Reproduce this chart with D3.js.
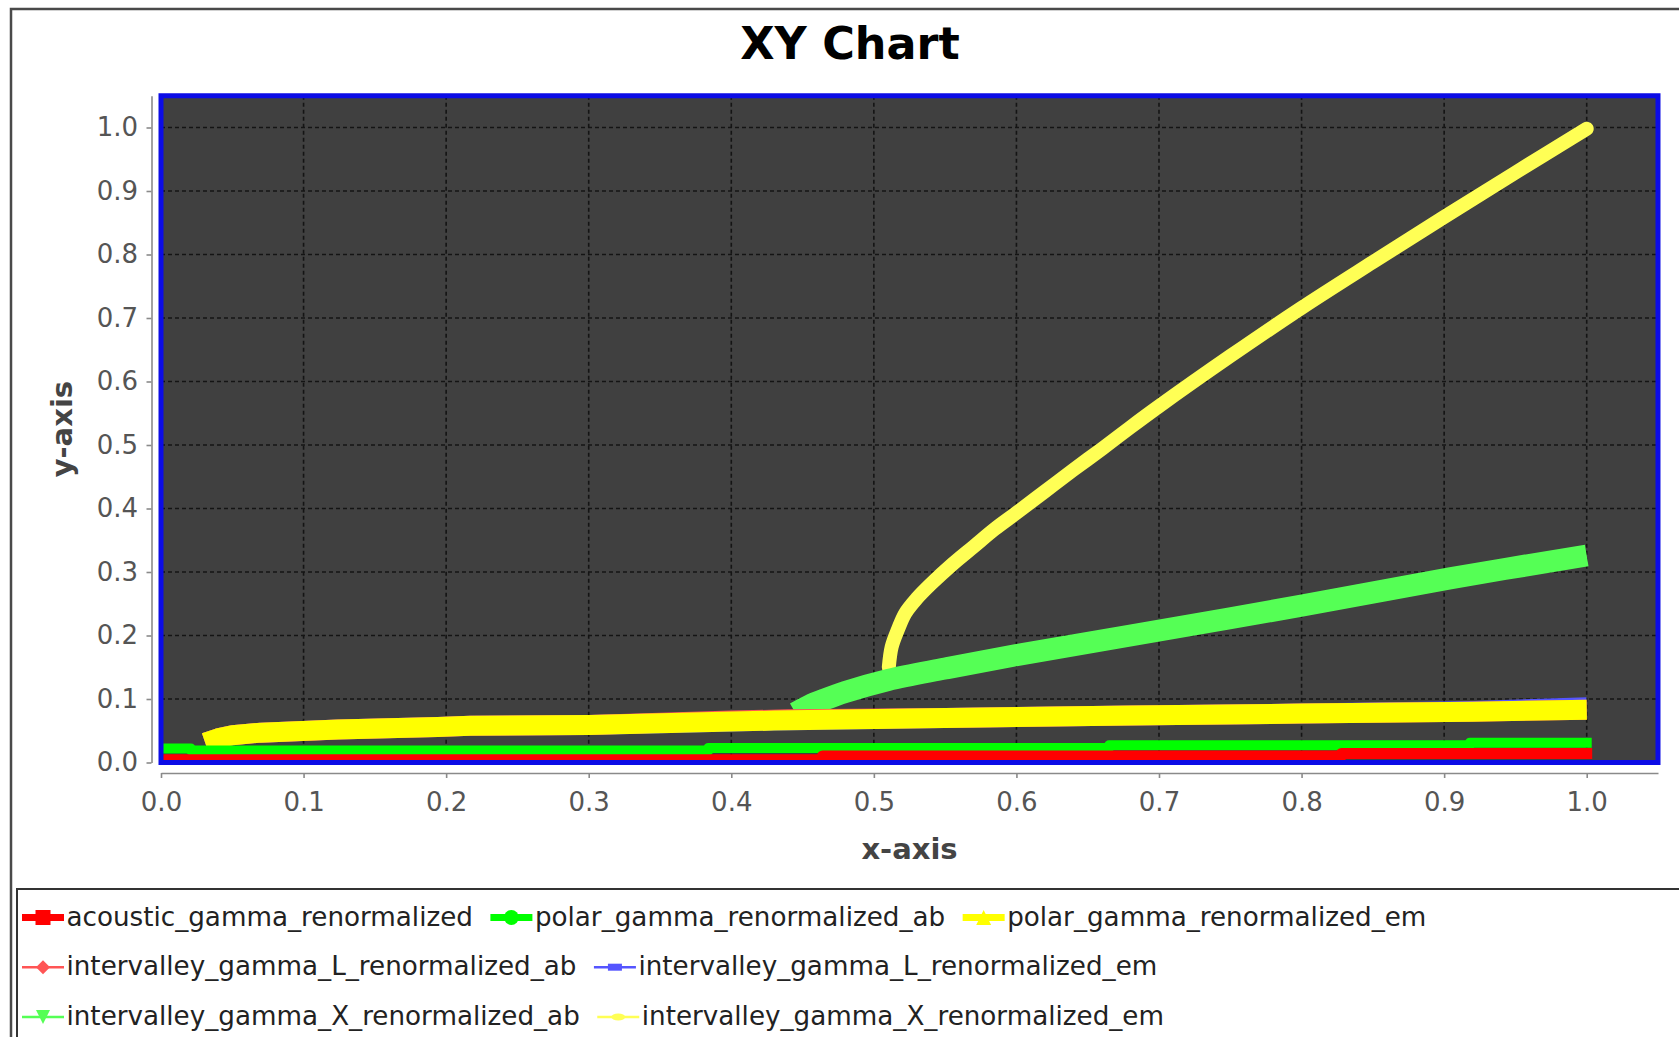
<!DOCTYPE html>
<html>
<head>
<meta charset="utf-8">
<title>XY Chart</title>
<script src="https://cdn.jsdelivr.net/npm/d3@7"></script>
<style>
  html, body { margin: 0; padding: 0; background: #ffffff; overflow: hidden; }
  svg { display: block; }
</style>
</head>
<body>
<svg id="chart" width="1679" height="1037"></svg>
<script>
// ---- data -------------------------------------------------------------
const chartTitle = "XY Chart";
const xLabel = "x-axis";
const yLabel = "y-axis";
const xTicks = [0.0, 0.1, 0.2, 0.3, 0.4, 0.5, 0.6, 0.7, 0.8, 0.9, 1.0];
const yTicks = [0.0, 0.1, 0.2, 0.3, 0.4, 0.5, 0.6, 0.7, 0.8, 0.9, 1.0];

const seriesNames = [
  "acoustic_gamma_renormalized",
  "polar_gamma_renormalized_ab",
  "polar_gamma_renormalized_em",
  "intervalley_gamma_L_renormalized_ab",
  "intervalley_gamma_L_renormalized_em",
  "intervalley_gamma_X_renormalized_ab",
  "intervalley_gamma_X_renormalized_em"
];

// [x, y] pairs per series
const acoustic = [[0.000, 0.0045], [0.464, 0.0103], [0.828, 0.0143], [1.000, 0.0143]];
const polarAb = [[0.000, 0.022], [0.021, 0.019], [0.384, 0.023], [0.665, 0.027], [0.918, 0.031], [1.000, 0.031]];
const polarEm = [[0.031, 0.031], [0.040, 0.038], [0.050, 0.043], [0.070, 0.047], [0.124, 0.052],
                 [0.194, 0.056], [0.217, 0.058], [0.300, 0.059], [0.430, 0.066], [0.550, 0.070],
                 [0.680, 0.074], [0.800, 0.077], [0.920, 0.080], [1.000, 0.083]];
const lAb = [[0.031, 0.031], [0.040, 0.038], [0.050, 0.043], [0.070, 0.047], [0.124, 0.052],
             [0.194, 0.056], [0.217, 0.058], [0.300, 0.059], [0.400, 0.066], [0.440, 0.068],
             [0.550, 0.070], [0.680, 0.074], [0.800, 0.077], [0.920, 0.080], [1.000, 0.083]];
const lEm = [[0.031, 0.031], [0.040, 0.038], [0.050, 0.043], [0.070, 0.047], [0.124, 0.052],
             [0.194, 0.056], [0.217, 0.058], [0.300, 0.059], [0.430, 0.066], [0.550, 0.070],
             [0.680, 0.074], [0.800, 0.077], [0.920, 0.081], [1.000, 0.087]];
const xAb = [[0.445, 0.078], [0.455, 0.090], [0.465, 0.099], [0.480, 0.111], [0.510, 0.130],
             [0.550, 0.148], [0.600, 0.169], [0.680, 0.200], [0.800, 0.247], [0.904, 0.290],
             [1.000, 0.326]];
const xEm = [[0.5105, 0.150], [0.5125, 0.182], [0.517, 0.210], [0.522, 0.235], [0.530, 0.258],
             [0.540, 0.281], [0.555, 0.312], [0.570, 0.340], [0.585, 0.368], [0.600, 0.393],
             [0.620, 0.427], [0.640, 0.461], [0.660, 0.494], [0.680, 0.528], [0.700, 0.561],
             [0.750, 0.640], [0.800, 0.716], [0.850, 0.788], [0.900, 0.859], [0.950, 0.929],
             [1.000, 0.998]];

const seriesData = [acoustic, polarAb, polarEm, lAb, lEm, xAb, xEm];

// ---- styles -----------------------------------------------------------
const seriesColors = ["#ff0000", "#00ff00", "#ffff00", "#ff5555", "#5555ff", "#55ff55", "#ffff55"];
const seriesWidths = [11, 10, 20, 20, 20, 22, 14];
const seriesCaps = ["square", "square", "butt", "butt", "butt", "butt", "round"];
const seriesStepped = [true, true, false, false, false, false, false];
const seriesShapes = ["square", "circle", "triangleUp", "diamond", "hrect", "triangleDown", "ellipse"];
const legendThick = [true, true, true, false, false, false, false];

const FONT = "'DejaVu Sans', Verdana, sans-serif";

// ---- layout -----------------------------------------------------------
const svg = d3.select("#chart");
const plot = { left: 161, right: 1658, top: 95.75, bottom: 762.5 };

const x = d3.scaleLinear().domain([0, 1.05]).range([plot.left, plot.right]);
const y = d3.scaleLinear().domain([0, 1.05]).range([plot.bottom, plot.top]);

// chart frame
svg.append("path")
  .attr("d", "M11,1045 V9 H1700")
  .attr("fill", "none")
  .attr("stroke", "#4a4a4a")
  .attr("stroke-width", 2.5);

// title
svg.append("text")
  .attr("x", 850).attr("y", 59)
  .attr("text-anchor", "middle")
  .attr("font-family", FONT)
  .attr("font-weight", "bold")
  .attr("font-size", 44.5)
  .attr("fill", "#000")
  .text(chartTitle);

// plot background
svg.append("rect")
  .attr("x", plot.left).attr("y", plot.top)
  .attr("width", plot.right - plot.left)
  .attr("height", plot.bottom - plot.top)
  .attr("fill", "#404040");

// grid
const grid = svg.append("g").attr("stroke", "#141414").attr("stroke-width", 1.6)
  .attr("stroke-dasharray", "4,3");
grid.selectAll("line.v").data(xTicks).join("line")
  .attr("class", "v")
  .attr("x1", d => x(d)).attr("x2", d => x(d))
  .attr("y1", plot.top).attr("y2", plot.bottom);
grid.selectAll("line.h").data(yTicks).join("line")
  .attr("class", "h")
  .attr("x1", plot.left).attr("x2", plot.right)
  .attr("y1", d => y(d)).attr("y2", d => y(d));

// series (drawn last-to-first so the first series ends up on top)
svg.append("clipPath").attr("id", "plotClip")
  .append("rect")
  .attr("x", plot.left).attr("y", plot.top)
  .attr("width", plot.right - plot.left)
  .attr("height", plot.bottom - plot.top);

const seriesG = svg.append("g").attr("clip-path", "url(#plotClip)");
d3.range(seriesData.length).reverse().forEach(i => {
  const line = d3.line()
    .x(d => x(d[0]))
    .y(d => y(d[1]))
    .curve(seriesStepped[i] ? d3.curveStepAfter : (i >= 5 ? d3.curveCatmullRom.alpha(0.5) : d3.curveLinear));
  seriesG.append("path")
    .datum(seriesData[i])
    .attr("d", line)
    .attr("fill", "none")
    .attr("stroke", seriesColors[i])
    .attr("stroke-width", seriesWidths[i])
    .attr("stroke-linecap", seriesCaps[i])
    .attr("stroke-linejoin", "round");
});

// plot outline
svg.append("rect")
  .attr("x", plot.left).attr("y", plot.top)
  .attr("width", plot.right - plot.left)
  .attr("height", plot.bottom - plot.top)
  .attr("fill", "none")
  .attr("stroke", "#0c0ce6")
  .attr("stroke-width", 5);

// axes
const fmt = d3.format(".1f");
const yAxis = svg.append("g")
  .attr("transform", "translate(151.5,0)")
  .call(d3.axisLeft(y).tickValues(yTicks).tickFormat(fmt).tickSize(5).tickSizeOuter(0).tickPadding(8.5));
const xAxis = svg.append("g")
  .attr("transform", "translate(0,773)")
  .call(d3.axisBottom(x).tickValues(xTicks).tickFormat(fmt).tickSize(5).tickSizeOuter(0).tickPadding(15));

[yAxis, xAxis].forEach(g => {
  g.select(".domain").attr("stroke", "#8a8a8a").attr("stroke-width", 1.6);
  g.selectAll(".tick line").attr("stroke", "#8a8a8a").attr("stroke-width", 1.6);
  g.selectAll(".tick text")
    .attr("font-family", FONT)
    .attr("font-size", 26)
    .attr("fill", "#555");
});

// axis labels
svg.append("text")
  .attr("x", (plot.left + plot.right) / 2).attr("y", 859)
  .attr("text-anchor", "middle")
  .attr("font-family", FONT).attr("font-weight", "bold").attr("font-size", 29)
  .attr("fill", "#444")
  .text(xLabel);
svg.append("text")
  .attr("transform", `translate(72,${(plot.top + plot.bottom) / 2}) rotate(-90)`)
  .attr("text-anchor", "middle")
  .attr("font-family", FONT).attr("font-weight", "bold").attr("font-size", 29)
  .attr("fill", "#444")
  .text(yLabel);

// legend
svg.append("rect")
  .attr("x", 17).attr("y", 889)
  .attr("width", 1700).attr("height", 200)
  .attr("fill", "none")
  .attr("stroke", "#333")
  .attr("stroke-width", 2);

const rowCenters = [917.5, 967.2, 1017];
const legendG = svg.append("g");
let cursor = 43, row = 0, inRow = 0;
const shapeGen = {
  square: s => `M${-s/2},${-s/2}h${s}v${s}h${-s}Z`,
  circle: s => `M${-s/2},0a${s/2},${s/2} 0 1,0 ${s},0a${s/2},${s/2} 0 1,0 ${-s},0Z`,
  triangleUp: s => `M0,${-s/2}L${s/2},${s/2}L${-s/2},${s/2}Z`,
  diamond: s => `M0,${-s/2}L${s/2},0L0,${s/2}L${-s/2},0Z`,
  hrect: s => `M${-s/2},${-s/4}h${s}v${s/2}h${-s}Z`,
  triangleDown: s => `M${-s/2},${-s/2}L${s/2},${-s/2}L0,${s/2}Z`,
  ellipse: s => `M${-s/2},0a${s/2},${s/4} 0 1,0 ${s},0a${s/2},${s/4} 0 1,0 ${-s},0Z`
};

seriesNames.forEach((name, i) => {
  const t = legendG.append("text")
    .attr("font-family", FONT).attr("font-size", 26.2)
    .attr("fill", "#222")
    .text(name);
  const w = t.node().getComputedTextLength();
  if (inRow > 0 && cursor + 23.5 + w > 1665) {
    row += 1; cursor = 43; inRow = 0;
  }
  const cy = rowCenters[row];
  t.attr("x", cursor + 23.5).attr("y", cy + 8);
  const ic = legendG.append("g").attr("transform", `translate(${cursor},${cy})`);
  ic.append("line")
    .attr("x1", -21).attr("x2", 21)
    .attr("stroke", seriesColors[i])
    .attr("stroke-width", legendThick[i] ? 7 : 2.5);
  ic.append("path")
    .attr("d", shapeGen[seriesShapes[i]](legendThick[i] ? 15 : 14))
    .attr("fill", seriesColors[i]);
  cursor = cursor + 23.5 + w + 38.5;
  inRow += 1;
});
</script>
</body>
</html>
